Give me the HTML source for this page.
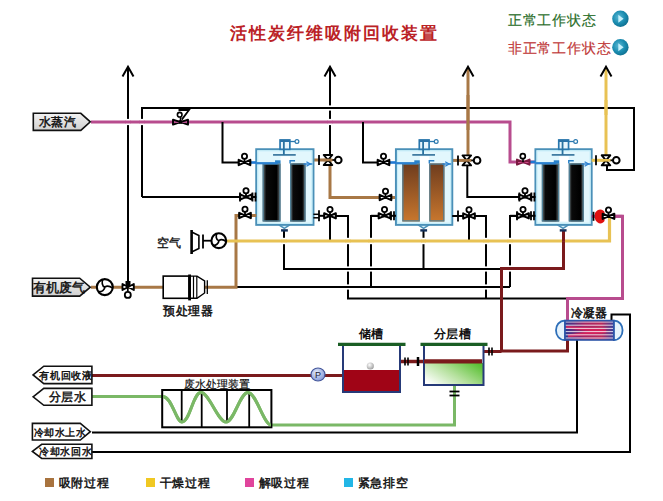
<!DOCTYPE html><html><head><meta charset="utf-8"><style>html,body{margin:0;padding:0;background:#fff;}svg{display:block}text{font-family:"Liberation Sans",sans-serif}</style></head><body>
<svg width="663" height="501" viewBox="0 0 663 501">
<defs>
<linearGradient id="blk" x1="0" y1="0" x2="1" y2="0"><stop offset="0" stop-color="#6f7f84"/><stop offset="0.2" stop-color="#0a0a0a"/><stop offset="0.78" stop-color="#000"/><stop offset="1" stop-color="#6a7478"/></linearGradient>
<linearGradient id="brn" x1="0" y1="0" x2="0" y2="1"><stop offset="0" stop-color="#6e3c1e"/><stop offset="1" stop-color="#c8772e"/></linearGradient>
<linearGradient id="lbl" x1="0" y1="0" x2="0" y2="1"><stop offset="0" stop-color="#f2f2f2"/><stop offset="1" stop-color="#d0d0d0"/></linearGradient>
<linearGradient id="grn" x1="0" y1="0.8" x2="1" y2="0.2"><stop offset="0" stop-color="#ffffff"/><stop offset="0.5" stop-color="#b4e09c"/><stop offset="1" stop-color="#5ac034"/></linearGradient>
<radialGradient id="btn" cx="0.4" cy="0.4" r="0.65"><stop offset="0" stop-color="#5ab8d4"/><stop offset="0.6" stop-color="#1a8cb0"/><stop offset="1" stop-color="#0f6e8e"/></radialGradient>
<radialGradient id="pmp" cx="0.4" cy="0.35" r="0.7"><stop offset="0" stop-color="#e4ecfb"/><stop offset="1" stop-color="#7f95d6"/></radialGradient>
<linearGradient id="cnd" x1="0" y1="0" x2="1" y2="0"><stop offset="0" stop-color="#2a3590"/><stop offset="0.4" stop-color="#a82262"/><stop offset="0.75" stop-color="#b8285c"/><stop offset="1" stop-color="#34409c"/></linearGradient>
<radialGradient id="ball" cx="0.4" cy="0.35" r="0.7"><stop offset="0" stop-color="#fff"/><stop offset="1" stop-color="#999"/></radialGradient>
</defs>
<polyline points="142,197 142,108 634,108 634,170 607,170 607,162" fill="none" stroke="#000" stroke-width="2" stroke-linejoin="miter" stroke-linecap="butt"/>
<polyline points="142,197 240,197" fill="none" stroke="#000" stroke-width="2" stroke-linejoin="miter" stroke-linecap="butt"/>
<polyline points="128,287 128,66.7" fill="none" stroke="#000" stroke-width="2" stroke-linejoin="miter" stroke-linecap="butt"/>
<polyline points="122.5,76.5 128,66.7 133.5,76.5" fill="none" stroke="#000" stroke-width="2"/>
<polyline points="330,160 330,66.7" fill="none" stroke="#000" stroke-width="2" stroke-linejoin="miter" stroke-linecap="butt"/>
<polyline points="324.5,76.5 330,66.7 335.5,76.5" fill="none" stroke="#000" stroke-width="2"/>
<polyline points="468,69 468,161" fill="none" stroke="#a87846" stroke-width="3" stroke-linejoin="miter" stroke-linecap="butt"/>
<polyline points="462.5,76.5 468,66.7 473.5,76.5" fill="none" stroke="#000" stroke-width="2"/>
<polyline points="606,69 606,160" fill="none" stroke="#e8c254" stroke-width="3" stroke-linejoin="miter" stroke-linecap="butt"/>
<polyline points="600.5,76.5 606,66.7 611.5,76.5" fill="none" stroke="#000" stroke-width="2"/>
<polyline points="91,122 510,122 510,162 536,162" fill="none" stroke="#b84c8e" stroke-width="3" stroke-linejoin="miter" stroke-linecap="butt"/>
<polyline points="222.5,122 222.5,162.5 240,162.5" fill="none" stroke="#000" stroke-width="2" stroke-linejoin="miter" stroke-linecap="butt"/>
<polyline points="363,122 363,162.5 378,162.5" fill="none" stroke="#000" stroke-width="2" stroke-linejoin="miter" stroke-linecap="butt"/>
<polyline points="313,160 330,160 330,197.5 396,197.5" fill="none" stroke="#a87846" stroke-width="3" stroke-linejoin="miter" stroke-linecap="butt"/>
<polyline points="452,160.4 468,160.4" fill="none" stroke="#a87846" stroke-width="3" stroke-linejoin="miter" stroke-linecap="butt"/>
<polyline points="467.3,162 467.3,197 520,197" fill="none" stroke="#000" stroke-width="2" stroke-linejoin="miter" stroke-linecap="butt"/>
<polyline points="330,216 330,241" fill="none" stroke="#000" stroke-width="2" stroke-linejoin="miter" stroke-linecap="butt"/>
<polyline points="330,216 348,216 348,298.5 567,298.5" fill="none" stroke="#000" stroke-width="2" stroke-linejoin="miter" stroke-linecap="butt"/>
<polyline points="469,216 469,241" fill="none" stroke="#000" stroke-width="2" stroke-linejoin="miter" stroke-linecap="butt"/>
<polyline points="469,216 486,216 486,298.5" fill="none" stroke="#000" stroke-width="2" stroke-linejoin="miter" stroke-linecap="butt"/>
<polyline points="385,216 371,216 371,287" fill="none" stroke="#000" stroke-width="2" stroke-linejoin="miter" stroke-linecap="butt"/>
<polyline points="523,216 510,216 510,287" fill="none" stroke="#000" stroke-width="2" stroke-linejoin="miter" stroke-linecap="butt"/>
<polyline points="236,287 510,287" fill="none" stroke="#000" stroke-width="2" stroke-linejoin="miter" stroke-linecap="butt"/>
<polyline points="284,230 284,269 501,269" fill="none" stroke="#000" stroke-width="2" stroke-linejoin="miter" stroke-linecap="butt"/>
<polyline points="423.5,230 423.5,269" fill="none" stroke="#000" stroke-width="2" stroke-linejoin="miter" stroke-linecap="butt"/>
<polyline points="91,287.2 236,287.2 236,215.5 240,215.5" fill="none" stroke="#a87846" stroke-width="3" stroke-linejoin="miter" stroke-linecap="butt"/>
<polyline points="227,241 609.5,241 609.5,216" fill="none" stroke="#e8c254" stroke-width="3.2" stroke-linejoin="miter" stroke-linecap="butt"/>
<polyline points="563.5,231 563.5,268.5 501.5,268.5 501.5,351 567.5,351 567.5,340" fill="none" stroke="#7a1a1c" stroke-width="3" stroke-linejoin="miter" stroke-linecap="butt"/>
<polyline points="591,216.3 622.5,216.3 622.5,298.5 567.5,298.5 567.5,322" fill="none" stroke="#b84c8e" stroke-width="3" stroke-linejoin="miter" stroke-linecap="butt"/>
<polyline points="92,432.5 577,432.5 577,340" fill="none" stroke="#000" stroke-width="2" stroke-linejoin="miter" stroke-linecap="butt"/>
<polyline points="92,452 630,452 630,314.5 611.5,314.5 611.5,322" fill="none" stroke="#000" stroke-width="2" stroke-linejoin="miter" stroke-linecap="butt"/>
<polyline points="92,375.5 343,375.5" fill="none" stroke="#7a1a1c" stroke-width="3" stroke-linejoin="miter" stroke-linecap="butt"/>
<polyline points="400,361.5 424,361.5" fill="none" stroke="#7a1a1c" stroke-width="3.5" stroke-linejoin="miter" stroke-linecap="butt"/>
<polyline points="424,361.5 482,361.5" fill="none" stroke="#7a1a1c" stroke-width="4" stroke-linejoin="miter" stroke-linecap="butt"/>
<polyline points="483.5,351.5 501.5,351.5" fill="none" stroke="#7a1a1c" stroke-width="3" stroke-linejoin="miter" stroke-linecap="butt"/>
<path d="M92,396.5 L163,396.5 C172,397 176,422 182,422 C190,422 193,392.5 201,392.5 C209,392.5 218,422 226,422 C234,422 240,392.5 248,392.5 C256,392.5 264,425 271,425 L454.5,425 L454.5,385" fill="none" stroke="#7ab866" stroke-width="3"/>
<rect x="126" y="118.9" width="4" height="6.2" fill="#fff"/>
<line x1="125.5" y1="122" x2="130.5" y2="122" stroke="#b84c8e" stroke-width="3"/>
<rect x="140" y="118.9" width="4" height="6.2" fill="#fff"/>
<line x1="139.5" y1="122" x2="144.5" y2="122" stroke="#b84c8e" stroke-width="3"/>
<rect x="328" y="105.4" width="4" height="5.2" fill="#fff"/>
<line x1="327.5" y1="108" x2="332.5" y2="108" stroke="#000" stroke-width="2"/>
<rect x="328" y="118.9" width="4" height="6.2" fill="#fff"/>
<line x1="327.5" y1="122" x2="332.5" y2="122" stroke="#b84c8e" stroke-width="3"/>
<rect x="282" y="237.8" width="4" height="6.4" fill="#fff"/>
<line x1="281.5" y1="241" x2="286.5" y2="241" stroke="#e8c254" stroke-width="3.2"/>
<rect x="421.5" y="237.8" width="4" height="6.4" fill="#fff"/>
<line x1="421.0" y1="241" x2="426.0" y2="241" stroke="#e8c254" stroke-width="3.2"/>
<rect x="346" y="237.8" width="4" height="6.4" fill="#fff"/>
<line x1="345.5" y1="241" x2="350.5" y2="241" stroke="#e8c254" stroke-width="3.2"/>
<rect x="369" y="237.8" width="4" height="6.4" fill="#fff"/>
<line x1="368.5" y1="241" x2="373.5" y2="241" stroke="#e8c254" stroke-width="3.2"/>
<rect x="484" y="237.8" width="4" height="6.4" fill="#fff"/>
<line x1="483.5" y1="241" x2="488.5" y2="241" stroke="#e8c254" stroke-width="3.2"/>
<rect x="508" y="237.8" width="4" height="6.4" fill="#fff"/>
<line x1="507.5" y1="241" x2="512.5" y2="241" stroke="#e8c254" stroke-width="3.2"/>
<rect x="346" y="266.4" width="4" height="5.2" fill="#fff"/>
<line x1="345.5" y1="269" x2="350.5" y2="269" stroke="#000" stroke-width="2"/>
<rect x="369" y="266.4" width="4" height="5.2" fill="#fff"/>
<line x1="368.5" y1="269" x2="373.5" y2="269" stroke="#000" stroke-width="2"/>
<rect x="484" y="266.4" width="4" height="5.2" fill="#fff"/>
<line x1="483.5" y1="269" x2="488.5" y2="269" stroke="#000" stroke-width="2"/>
<rect x="508" y="265.4" width="4" height="6.2" fill="#fff"/>
<line x1="507.5" y1="268.5" x2="512.5" y2="268.5" stroke="#7a1a1c" stroke-width="3"/>
<rect x="346" y="284.4" width="4" height="5.2" fill="#fff"/>
<line x1="345.5" y1="287" x2="350.5" y2="287" stroke="#000" stroke-width="2"/>
<rect x="484" y="284.4" width="4" height="5.2" fill="#fff"/>
<line x1="483.5" y1="287" x2="488.5" y2="287" stroke="#000" stroke-width="2"/>
<polyline points="468,95 468,130" fill="none" stroke="#a87846" stroke-width="3" stroke-linejoin="miter" stroke-linecap="butt"/>
<polyline points="563.5,236 563.5,246" fill="none" stroke="#7a1a1c" stroke-width="3" stroke-linejoin="miter" stroke-linecap="butt"/>
<polyline points="563.5,241 563.5,241.1" fill="none" stroke="#e8c254" stroke-width="3" stroke-linejoin="miter" stroke-linecap="butt"/>
<polyline points="501.5,280 501.5,305" fill="none" stroke="#7a1a1c" stroke-width="3" stroke-linejoin="miter" stroke-linecap="butt"/>
<polyline points="606,100 606,115" fill="none" stroke="#e8c254" stroke-width="3" stroke-linejoin="miter" stroke-linecap="butt"/>
<path d="M278.85,224.8 L284.35,228.3 L289.85,224.8" fill="#d8f2fb" stroke="#4a90b8" stroke-width="1.6"/>
<line x1="281.05" y1="230.4" x2="287.85" y2="230.4" stroke="#12305a" stroke-width="2.4"/>
<rect x="256.3" y="149.3" width="57.099999999999966" height="75.5" fill="#e2f7fd" stroke="#4a90b8" stroke-width="2.1"/>
<rect x="257.8" y="150.8" width="54.099999999999966" height="72.5" fill="none" stroke="#c8eef9" stroke-width="1.2"/>
<rect x="280.05" y="140.0" width="9.8" height="9.3" fill="#e8f6fd" stroke="#2a78ae" stroke-width="1.7"/>
<line x1="280.05" y1="140.8" x2="289.85" y2="140.8" stroke="#2a72a8" stroke-width="2.4"/>
<line x1="283.85" y1="140.3" x2="283.85" y2="154.8" stroke="#2a72a0" stroke-width="1.8"/>
<line x1="289.85" y1="141.5" x2="295.15000000000003" y2="141.5" stroke="#2a78ae" stroke-width="1.3"/>
<circle cx="296.95000000000005" cy="141.5" r="1.9" fill="#fff" stroke="#2a78ae" stroke-width="1.2"/>
<line x1="273.05" y1="154.9" x2="295.75" y2="154.9" stroke="#2f6e98" stroke-width="1.6"/>
<rect x="280.55" y="156.3" width="9.5" height="65.19999999999999" fill="#fff"/>
<rect x="262.6" y="163.5" width="17.94999999999999" height="58.0" fill="url(#blk)"/>
<rect x="263.20000000000005" y="164.1" width="16.74999999999999" height="56.8" fill="none" stroke="#4f7f96" stroke-width="1.2"/>
<rect x="290.05" y="163.5" width="15.549999999999955" height="58.0" fill="url(#blk)"/>
<rect x="290.65000000000003" y="164.1" width="14.349999999999955" height="56.8" fill="none" stroke="#4f7f96" stroke-width="1.2"/>
<rect x="275.05" y="160.3" width="5.5" height="3.2" fill="#2a82c8"/>
<path d="M290.05,163.5 L290.05,160.8 L295.05,160.8" fill="none" stroke="#2a82c8" stroke-width="1.4"/>
<line x1="256.3" y1="163.2" x2="277.55" y2="163.2" stroke="#2a80d0" stroke-width="2.2"/>
<line x1="303.59999999999997" y1="164" x2="312.4" y2="164" stroke="#2a80d0" stroke-width="1.4"/>
<path d="M306.4,161.8 L310.4,164 L306.4,166.2" fill="none" stroke="#2a80d0" stroke-width="1.2"/>
<path d="M418.1,224.8 L423.6,228.3 L429.1,224.8" fill="#d8f2fb" stroke="#4a90b8" stroke-width="1.6"/>
<line x1="420.3" y1="230.4" x2="427.1" y2="230.4" stroke="#12305a" stroke-width="2.4"/>
<rect x="396" y="149.3" width="56.19999999999999" height="75.5" fill="#e2f7fd" stroke="#4a90b8" stroke-width="2.1"/>
<rect x="397.5" y="150.8" width="53.19999999999999" height="72.5" fill="none" stroke="#c8eef9" stroke-width="1.2"/>
<rect x="419.3" y="140.0" width="9.8" height="9.3" fill="#e8f6fd" stroke="#2a78ae" stroke-width="1.7"/>
<line x1="419.3" y1="140.8" x2="429.1" y2="140.8" stroke="#2a72a8" stroke-width="2.4"/>
<line x1="423.1" y1="140.3" x2="423.1" y2="154.8" stroke="#2a72a0" stroke-width="1.8"/>
<line x1="429.1" y1="141.5" x2="434.40000000000003" y2="141.5" stroke="#2a78ae" stroke-width="1.3"/>
<circle cx="436.20000000000005" cy="141.5" r="1.9" fill="#fff" stroke="#2a78ae" stroke-width="1.2"/>
<line x1="412.3" y1="154.9" x2="435.0" y2="154.9" stroke="#2f6e98" stroke-width="1.6"/>
<rect x="419.8" y="156.3" width="9.5" height="65.19999999999999" fill="#fff"/>
<rect x="402.3" y="163.5" width="17.5" height="58.0" fill="url(#brn)"/>
<rect x="402.90000000000003" y="164.1" width="16.3" height="56.8" fill="none" stroke="#4f7f96" stroke-width="1.2"/>
<rect x="429.3" y="163.5" width="15.099999999999966" height="58.0" fill="url(#brn)"/>
<rect x="429.90000000000003" y="164.1" width="13.899999999999967" height="56.8" fill="none" stroke="#4f7f96" stroke-width="1.2"/>
<rect x="414.3" y="160.3" width="5.5" height="3.2" fill="#2a82c8"/>
<path d="M429.3,163.5 L429.3,160.8 L434.3,160.8" fill="none" stroke="#2a82c8" stroke-width="1.4"/>
<line x1="396" y1="163.2" x2="416.8" y2="163.2" stroke="#2a80d0" stroke-width="2.2"/>
<line x1="442.4" y1="164" x2="451.2" y2="164" stroke="#2a80d0" stroke-width="1.4"/>
<path d="M445.2,161.8 L449.2,164 L445.2,166.2" fill="none" stroke="#2a80d0" stroke-width="1.2"/>
<path d="M557.55,224.8 L563.05,228.3 L568.55,224.8" fill="#d8f2fb" stroke="#4a90b8" stroke-width="1.6"/>
<line x1="559.75" y1="230.4" x2="566.55" y2="230.4" stroke="#12305a" stroke-width="2.4"/>
<rect x="535.5" y="149.3" width="56.10000000000002" height="75.5" fill="#e2f7fd" stroke="#4a90b8" stroke-width="2.1"/>
<rect x="537.0" y="150.8" width="53.10000000000002" height="72.5" fill="none" stroke="#c8eef9" stroke-width="1.2"/>
<rect x="558.75" y="140.0" width="9.8" height="9.3" fill="#e8f6fd" stroke="#2a78ae" stroke-width="1.7"/>
<line x1="558.75" y1="140.8" x2="568.55" y2="140.8" stroke="#2a72a8" stroke-width="2.4"/>
<line x1="562.55" y1="140.3" x2="562.55" y2="154.8" stroke="#2a72a0" stroke-width="1.8"/>
<line x1="568.55" y1="141.5" x2="573.8499999999999" y2="141.5" stroke="#2a78ae" stroke-width="1.3"/>
<circle cx="575.65" cy="141.5" r="1.9" fill="#fff" stroke="#2a78ae" stroke-width="1.2"/>
<line x1="551.75" y1="154.9" x2="574.4499999999999" y2="154.9" stroke="#2f6e98" stroke-width="1.6"/>
<rect x="559.25" y="156.3" width="9.5" height="65.19999999999999" fill="#fff"/>
<rect x="541.8" y="163.5" width="17.450000000000045" height="58.0" fill="url(#blk)"/>
<rect x="542.4" y="164.1" width="16.250000000000046" height="56.8" fill="none" stroke="#4f7f96" stroke-width="1.2"/>
<rect x="568.75" y="163.5" width="15.050000000000068" height="58.0" fill="url(#blk)"/>
<rect x="569.35" y="164.1" width="13.850000000000069" height="56.8" fill="none" stroke="#4f7f96" stroke-width="1.2"/>
<rect x="553.75" y="160.3" width="5.5" height="3.2" fill="#2a82c8"/>
<path d="M568.75,163.5 L568.75,160.8 L573.75,160.8" fill="none" stroke="#2a82c8" stroke-width="1.4"/>
<line x1="535.5" y1="163.2" x2="556.25" y2="163.2" stroke="#2a80d0" stroke-width="2.2"/>
<line x1="581.8000000000001" y1="164" x2="590.6" y2="164" stroke="#2a80d0" stroke-width="1.4"/>
<path d="M584.6,161.8 L588.6,164 L584.6,166.2" fill="none" stroke="#2a80d0" stroke-width="1.2"/>
<polyline points="250,162.5 256.3,162.5" fill="none" stroke="#1f78d2" stroke-width="2.6" stroke-linejoin="miter" stroke-linecap="butt"/>
<path d="M238.7,159.9 L250.3,165.1 L250.3,159.9 L238.7,165.1 Z" fill="#fff" stroke="#000" stroke-width="2.1" stroke-linejoin="round"/>
<rect x="243.0" y="161.0" width="3" height="3" fill="#000"/>
<line x1="244.5" y1="162.5" x2="244.5" y2="159.0" stroke="#000" stroke-width="1.8"/>
<circle cx="244.5" cy="156.2" r="2.6" fill="#fff" stroke="#000" stroke-width="1.8"/>
<polyline points="240,197 256.3,197" fill="none" stroke="#000" stroke-width="2" stroke-linejoin="miter" stroke-linecap="butt"/>
<path d="M240.2,194.4 L251.8,199.6 L251.8,194.4 L240.2,199.6 Z" fill="#fff" stroke="#000" stroke-width="2.1" stroke-linejoin="round"/>
<rect x="244.5" y="195.5" width="3" height="3" fill="#000"/>
<line x1="246" y1="197" x2="246" y2="193.5" stroke="#000" stroke-width="1.8"/>
<circle cx="246" cy="190.7" r="2.6" fill="#fff" stroke="#000" stroke-width="1.8"/>
<line x1="240" y1="192.5" x2="240" y2="201.5" stroke="#000" stroke-width="1.8"/>
<line x1="252.5" y1="192.5" x2="252.5" y2="201.5" stroke="#000" stroke-width="1.8"/>
<line x1="255.5" y1="192.5" x2="255.5" y2="201.5" stroke="#000" stroke-width="1.8"/>
<polyline points="250,215.5 256.3,215.5" fill="none" stroke="#a87846" stroke-width="3" stroke-linejoin="miter" stroke-linecap="butt"/>
<path d="M239.2,212.9 L250.8,218.1 L250.8,212.9 L239.2,218.1 Z" fill="#fff" stroke="#000" stroke-width="2.1" stroke-linejoin="round"/>
<rect x="243.5" y="214.0" width="3" height="3" fill="#000"/>
<line x1="245" y1="215.5" x2="245" y2="212.0" stroke="#000" stroke-width="1.8"/>
<circle cx="245" cy="209.2" r="2.6" fill="#fff" stroke="#000" stroke-width="1.8"/>
<line x1="319" y1="155.0" x2="319" y2="165.0" stroke="#000" stroke-width="1.8"/>
<line x1="331" y1="160" x2="335.5" y2="160" stroke="#000" stroke-width="1.8"/>
<circle cx="338.3" cy="160" r="3.3" fill="#fff" stroke="#000" stroke-width="2"/>
<path d="M323.7,155 L332.3,155 L323.7,165 L332.3,165 Z" fill="#fff" stroke="#000" stroke-width="1.9" stroke-linejoin="round"/>
<line x1="323.5" y1="160" x2="332.5" y2="160" stroke="#a87846" stroke-width="2.6"/>
<polyline points="313.4,214.3 319,214.3" fill="none" stroke="#000" stroke-width="1.5" stroke-linejoin="miter" stroke-linecap="butt"/>
<polyline points="313.4,217.8 319,217.8" fill="none" stroke="#000" stroke-width="1.5" stroke-linejoin="miter" stroke-linecap="butt"/>
<line x1="319" y1="210.3" x2="319" y2="221.3" stroke="#000" stroke-width="1.8"/>
<polyline points="319,215.8 325,215.8" fill="none" stroke="#000" stroke-width="2" stroke-linejoin="miter" stroke-linecap="butt"/>
<path d="M324.2,213.20000000000002 L335.8,218.4 L335.8,213.20000000000002 L324.2,218.4 Z" fill="#fff" stroke="#000" stroke-width="2.1" stroke-linejoin="round"/>
<rect x="328.5" y="214.3" width="3" height="3" fill="#000"/>
<line x1="330" y1="215.8" x2="330" y2="212.3" stroke="#000" stroke-width="1.8"/>
<circle cx="330" cy="209.5" r="2.6" fill="#fff" stroke="#000" stroke-width="1.8"/>
<polyline points="389,162.5 396,162.5" fill="none" stroke="#1f78d2" stroke-width="2.6" stroke-linejoin="miter" stroke-linecap="butt"/>
<path d="M377.7,159.9 L389.3,165.1 L389.3,159.9 L377.7,165.1 Z" fill="#fff" stroke="#000" stroke-width="2.1" stroke-linejoin="round"/>
<rect x="382.0" y="161.0" width="3" height="3" fill="#000"/>
<line x1="383.5" y1="162.5" x2="383.5" y2="159.0" stroke="#000" stroke-width="1.8"/>
<circle cx="383.5" cy="156.2" r="2.6" fill="#fff" stroke="#000" stroke-width="1.8"/>
<path d="M379.7,194.9 L391.3,200.1 L391.3,194.9 L379.7,200.1 Z" fill="#fff" stroke="#000" stroke-width="2.1" stroke-linejoin="round"/>
<rect x="384.0" y="196.0" width="3" height="3" fill="#000"/>
<line x1="385.5" y1="197.5" x2="385.5" y2="194.0" stroke="#000" stroke-width="1.8"/>
<circle cx="385.5" cy="191.2" r="2.6" fill="#fff" stroke="#000" stroke-width="1.8"/>
<polyline points="371,215.8 396,215.8" fill="none" stroke="#000" stroke-width="2" stroke-linejoin="miter" stroke-linecap="butt"/>
<path d="M378.7,213.20000000000002 L390.3,218.4 L390.3,213.20000000000002 L378.7,218.4 Z" fill="#fff" stroke="#000" stroke-width="2.1" stroke-linejoin="round"/>
<rect x="383.0" y="214.3" width="3" height="3" fill="#000"/>
<line x1="384.5" y1="215.8" x2="384.5" y2="212.3" stroke="#000" stroke-width="1.8"/>
<circle cx="384.5" cy="209.5" r="2.6" fill="#fff" stroke="#000" stroke-width="1.8"/>
<line x1="391" y1="211.3" x2="391" y2="220.3" stroke="#000" stroke-width="1.8"/>
<line x1="394" y1="211.3" x2="394" y2="220.3" stroke="#000" stroke-width="1.8"/>
<line x1="458" y1="155.4" x2="458" y2="165.4" stroke="#000" stroke-width="1.8"/>
<line x1="469.8" y1="160.4" x2="474.3" y2="160.4" stroke="#000" stroke-width="1.8"/>
<circle cx="477.1" cy="160.4" r="3.3" fill="#fff" stroke="#000" stroke-width="2"/>
<path d="M462.5,155.4 L471.1,155.4 L462.5,165.4 L471.1,165.4 Z" fill="#fff" stroke="#000" stroke-width="1.9" stroke-linejoin="round"/>
<line x1="462.3" y1="160.4" x2="471.3" y2="160.4" stroke="#a87846" stroke-width="2.6"/>
<polyline points="452.2,216 469,216" fill="none" stroke="#000" stroke-width="2" stroke-linejoin="miter" stroke-linecap="butt"/>
<line x1="458" y1="210.5" x2="458" y2="221.5" stroke="#000" stroke-width="1.8"/>
<path d="M463.2,213.4 L474.8,218.6 L474.8,213.4 L463.2,218.6 Z" fill="#fff" stroke="#000" stroke-width="2.1" stroke-linejoin="round"/>
<rect x="467.5" y="214.5" width="3" height="3" fill="#000"/>
<line x1="469" y1="216" x2="469" y2="212.5" stroke="#000" stroke-width="1.8"/>
<circle cx="469" cy="209.7" r="2.6" fill="#fff" stroke="#000" stroke-width="1.8"/>
<polyline points="529,162 535.5,162" fill="none" stroke="#1f78d2" stroke-width="2.6" stroke-linejoin="miter" stroke-linecap="butt"/>
<path d="M517,159.6 L529.5,164.6 L529.5,159.6 L517,164.6 Z" fill="#d04a8a" stroke="#7a1a40" stroke-width="2" stroke-linejoin="round"/>
<line x1="523" y1="162" x2="523" y2="158.5" stroke="#000" stroke-width="1.6"/><circle cx="522.8" cy="156.2" r="2.5" fill="#fff" stroke="#000" stroke-width="1.7"/>
<polyline points="500,197 535.5,197" fill="none" stroke="#000" stroke-width="2" stroke-linejoin="miter" stroke-linecap="butt"/>
<path d="M519.2,194.4 L530.8,199.6 L530.8,194.4 L519.2,199.6 Z" fill="#fff" stroke="#000" stroke-width="2.1" stroke-linejoin="round"/>
<rect x="523.5" y="195.5" width="3" height="3" fill="#000"/>
<line x1="525" y1="197" x2="525" y2="193.5" stroke="#000" stroke-width="1.8"/>
<circle cx="525" cy="190.7" r="2.6" fill="#fff" stroke="#000" stroke-width="1.8"/>
<line x1="519.4" y1="192.5" x2="519.4" y2="201.5" stroke="#000" stroke-width="1.8"/>
<line x1="531.4" y1="192.5" x2="531.4" y2="201.5" stroke="#000" stroke-width="1.8"/>
<line x1="534.4" y1="192.5" x2="534.4" y2="201.5" stroke="#000" stroke-width="1.8"/>
<polyline points="510,215.8 535.5,215.8" fill="none" stroke="#000" stroke-width="2" stroke-linejoin="miter" stroke-linecap="butt"/>
<path d="M517.2,213.20000000000002 L528.8,218.4 L528.8,213.20000000000002 L517.2,218.4 Z" fill="#fff" stroke="#000" stroke-width="2.1" stroke-linejoin="round"/>
<rect x="521.5" y="214.3" width="3" height="3" fill="#000"/>
<line x1="523" y1="215.8" x2="523" y2="212.3" stroke="#000" stroke-width="1.8"/>
<circle cx="523" cy="209.5" r="2.6" fill="#fff" stroke="#000" stroke-width="1.8"/>
<line x1="517" y1="211.3" x2="517" y2="220.3" stroke="#000" stroke-width="1.8"/>
<line x1="531" y1="211.3" x2="531" y2="220.3" stroke="#000" stroke-width="1.8"/>
<line x1="534" y1="211.3" x2="534" y2="220.3" stroke="#000" stroke-width="1.8"/>
<polyline points="591.6,160.3 606,160.3" fill="none" stroke="#e8c254" stroke-width="3" stroke-linejoin="miter" stroke-linecap="butt"/>
<line x1="596" y1="155.3" x2="596" y2="165.3" stroke="#000" stroke-width="1.8"/>
<line x1="609" y1="160.3" x2="613.5" y2="160.3" stroke="#000" stroke-width="1.8"/>
<circle cx="616.3" cy="160.3" r="3.3" fill="#fff" stroke="#000" stroke-width="2"/>
<path d="M601.7,155.3 L610.3,155.3 L601.7,165.3 L610.3,165.3 Z" fill="#fff" stroke="#000" stroke-width="1.9" stroke-linejoin="round"/>
<line x1="601.5" y1="160.3" x2="610.5" y2="160.3" stroke="#e8c254" stroke-width="2.6"/>
<polyline points="591.6,216.3 622.5,216.3" fill="none" stroke="#b84c8e" stroke-width="3" stroke-linejoin="miter" stroke-linecap="butt"/>
<line x1="593.5" y1="211.8" x2="593.5" y2="220.8" stroke="#000" stroke-width="1.8"/>
<path d="M595,213 C598,208 603,209 604.5,212 L604.5,221 C602,225 597,224 595,219 Z" fill="#e01010"/>
<path d="M602.7,213.70000000000002 L614.3,218.9 L614.3,213.70000000000002 L602.7,218.9 Z" fill="#fff" stroke="#000" stroke-width="2.1" stroke-linejoin="round"/>
<rect x="607.0" y="214.8" width="3" height="3" fill="#000"/>
<line x1="608.5" y1="216.3" x2="608.5" y2="212.8" stroke="#000" stroke-width="1.8"/>
<circle cx="608.5" cy="210.0" r="2.6" fill="#fff" stroke="#000" stroke-width="1.8"/>
<path d="M173,119.6 L188,124.6 L188,119.6 L173,124.6 Z" fill="none" stroke="#000" stroke-width="1.9" stroke-linejoin="round"/>
<rect x="178.8" y="120.3" width="3.4" height="3.4" fill="#000"/><line x1="180.5" y1="122" x2="180.5" y2="117" stroke="#000" stroke-width="1.6"/>
<path d="M178.5,110 L189,110 L181.8,119.6" fill="none" stroke="#000" stroke-width="1.8"/><circle cx="179.7" cy="114.7" r="2.3" fill="#fff" stroke="#000" stroke-width="1.6"/>
<rect x="125.5" y="281" width="5" height="5" fill="#000"/>
<path d="M122.5,284 L133.8,290 L133.8,284 L122.5,290 Z" fill="#fff" stroke="#000" stroke-width="1.9" stroke-linejoin="round"/>
<line x1="127.8" y1="287" x2="127.8" y2="291.5" stroke="#000" stroke-width="1.8"/><circle cx="127.8" cy="294.9" r="3" fill="#fff" stroke="#000" stroke-width="1.8"/>
<circle cx="104.8" cy="287.1" r="8" fill="#fff" stroke="#000" stroke-width="2.1"/>
<path d="M104.8,287.1 C101.8,286.1 101.8,282.1 102.8,279.1 M104.8,287.1 C106.8,285.6 109.8,286.1 112.8,288.1 M104.8,287.1 C104.8,290.1 101.8,292.1 98.3,291.6" fill="none" stroke="#000" stroke-width="1.7"/>
<line x1="191.6" y1="230" x2="191.6" y2="254" stroke="#000" stroke-width="2.6"/>
<path d="M191.6,232 L198.9,235.5 L198.9,248.5 L191.6,252" fill="none" stroke="#000" stroke-width="1.6"/>
<line x1="203" y1="234.5" x2="203" y2="248.5" stroke="#000" stroke-width="1.8"/><line x1="203" y1="240.7" x2="211.5" y2="240.7" stroke="#000" stroke-width="1.8"/>
<circle cx="218.8" cy="240.7" r="7.4" fill="#fff" stroke="#000" stroke-width="2.1"/>
<path d="M218.8,240.7 C215.8,239.7 215.8,235.7 216.8,233.29999999999998 M218.8,240.7 C220.8,239.2 223.8,239.7 226.20000000000002,241.7 M218.8,240.7 C218.8,243.7 215.8,245.7 212.9,245.2" fill="none" stroke="#000" stroke-width="1.7"/>
<rect x="163.2" y="276.1" width="26.1" height="22.2" fill="#fff" stroke="#000" stroke-width="1.6"/>
<path d="M189.3,276.1 L197,276.1 L204.6,280.8 L204.6,293 L197,298.3 L189.3,298.3 Z" fill="#fff" stroke="#000" stroke-width="1.4"/>
<line x1="189.6" y1="274.5" x2="189.6" y2="300.4" stroke="#000" stroke-width="2.8"/><line x1="193.5" y1="276" x2="193.5" y2="298.3" stroke="#000" stroke-width="1.2"/><line x1="196.8" y1="276" x2="196.8" y2="298.3" stroke="#000" stroke-width="1.2"/>
<line x1="207.3" y1="280.3" x2="207.3" y2="294" stroke="#000" stroke-width="1.3"/>
<rect x="343" y="370" width="57" height="22" fill="#a00416"/>
<polyline points="343,344.5 343,392 400,392 400,344.5" fill="none" stroke="#263a78" stroke-width="2"/>
<line x1="338" y1="344.3" x2="405.5" y2="344.3" stroke="#1a5e24" stroke-width="3.2"/>
<circle cx="370.3" cy="366" r="3.6" fill="url(#ball)"/>
<rect x="424" y="363" width="59.5" height="22" fill="url(#grn)"/>
<polyline points="424,344.5 424,385 483.5,385 483.5,344.5" fill="none" stroke="#263a78" stroke-width="2"/>
<line x1="420.5" y1="344.3" x2="487.5" y2="344.3" stroke="#1a5e24" stroke-width="3.2"/>
<polyline points="424,361.5 482,361.5" fill="none" stroke="#7a1a1c" stroke-width="4" stroke-linejoin="miter" stroke-linecap="butt"/>
<line x1="405" y1="357.5" x2="405" y2="365.5" stroke="#000" stroke-width="1.6"/>
<line x1="408" y1="357.5" x2="408" y2="365.5" stroke="#000" stroke-width="1.6"/>
<line x1="418" y1="357.0" x2="418" y2="366.0" stroke="#000" stroke-width="2.5"/>
<line x1="489" y1="347.5" x2="489" y2="355.5" stroke="#000" stroke-width="1.6"/>
<line x1="492" y1="347.5" x2="492" y2="355.5" stroke="#000" stroke-width="1.6"/>
<line x1="449.5" y1="391.5" x2="459.5" y2="391.5" stroke="#000" stroke-width="1.8"/>
<line x1="449.5" y1="395.5" x2="459.5" y2="395.5" stroke="#000" stroke-width="1.8"/>
<ellipse cx="318" cy="374.5" rx="7" ry="6.5" fill="url(#pmp)" stroke="#44569a" stroke-width="1.2"/><text x="318" y="378.3" font-size="9" text-anchor="middle" fill="#223">P</text>
<path d="M565,320.6 C553,320.6 553,340 565,340 Z" fill="#e6f3fc" stroke="#2d6eb8" stroke-width="1.8"/>
<path d="M613.8,320.6 C625.5,320.6 625.5,340 613.8,340 Z" fill="#e6f3fc" stroke="#2d6eb8" stroke-width="1.8"/>
<rect x="565" y="320.6" width="48.8" height="19.4" fill="url(#cnd)"/>
<path d="M566,327 L606,331 L568,336" fill="none" stroke="#d8205a" stroke-width="3" opacity="0.85"/>
<line x1="565" y1="322" x2="613.8" y2="322" stroke="#ffffff" stroke-width="0.9" opacity="0.9"/>
<line x1="565" y1="325.2" x2="613.8" y2="325.2" stroke="#ffffff" stroke-width="0.9" opacity="0.9"/>
<line x1="565" y1="328.4" x2="613.8" y2="328.4" stroke="#ffffff" stroke-width="0.9" opacity="0.9"/>
<line x1="565" y1="331.6" x2="613.8" y2="331.6" stroke="#ffffff" stroke-width="0.9" opacity="0.9"/>
<line x1="565" y1="334.8" x2="613.8" y2="334.8" stroke="#ffffff" stroke-width="0.9" opacity="0.9"/>
<line x1="565" y1="338" x2="613.8" y2="338" stroke="#ffffff" stroke-width="0.9" opacity="0.9"/>
<rect x="565" y="320.6" width="48.8" height="19.4" fill="none" stroke="#2d55a8" stroke-width="1.6"/>
<rect x="162.2" y="390" width="109.2" height="37.3" fill="none" stroke="#000" stroke-width="2"/>
<line x1="181.7" y1="390" x2="181.7" y2="421" stroke="#000" stroke-width="1.8"/>
<line x1="201.7" y1="393" x2="201.7" y2="427" stroke="#000" stroke-width="1.8"/>
<line x1="227" y1="390" x2="227" y2="421" stroke="#000" stroke-width="1.8"/>
<line x1="249.2" y1="393" x2="249.2" y2="427" stroke="#000" stroke-width="1.8"/>
<path d="M163,396.5 C172,397 176,422 182,422 C190,422 193,392.5 201,392.5 C209,392.5 218,422 226,422 C234,422 240,392.5 248,392.5 C256,392.5 264,425 271,425" fill="none" stroke="#7ab866" stroke-width="3"/>
<path d="M33.3,113.3 L80.8,113.3 L90.3,121.85 L80.8,130.4 L33.3,130.4 Z" fill="url(#lbl)" stroke="#111" stroke-width="1.6"/>
<text x="39.3" y="126.401" font-size="12.3" letter-spacing="0.2" fill="#111" stroke="#111" stroke-width="0.45">水蒸汽</text>
<path d="M32.5,278.2 L79.7,278.2 L90.3,287.15 L79.7,296.1 L32.5,296.1 Z" fill="url(#lbl)" stroke="#111" stroke-width="1.6"/>
<text x="32.5" y="291.775" font-size="12.5" letter-spacing="0" fill="#111" stroke="#111" stroke-width="0.45">有机废气</text>
<path d="M33.1,374.9 L43.8,366.2 L91.9,366.2 L91.9,383.6 L43.8,383.6 Z" fill="#fff" stroke="#111" stroke-width="1.6"/>
<text x="39.4" y="378.748" font-size="10.4" letter-spacing="0.65" fill="#111" stroke="#111" stroke-width="0.45">有机回收液</text>
<path d="M33.1,396.85 L43.8,388.4 L91.9,388.4 L91.9,405.3 L43.8,405.3 Z" fill="#fff" stroke="#111" stroke-width="1.6"/>
<text x="49.4" y="401.36400000000003" font-size="12.2" letter-spacing="0.1" fill="#111" stroke="#111" stroke-width="0.45">分层水</text>
<path d="M32.4,423.4 L80.3,423.4 L90.3,431.7 L80.3,440 L32.4,440 Z" fill="#fff" stroke="#111" stroke-width="1.6"/>
<text x="33.8" y="435.548" font-size="10.4" letter-spacing="0.45" fill="#111" stroke="#111" stroke-width="0.45">冷却水上水</text>
<path d="M32.4,451.4 L41.7,444.3 L91.9,444.3 L91.9,458.5 L41.7,458.5 Z" fill="#fff" stroke="#111" stroke-width="1.6"/>
<text x="39.2" y="455.248" font-size="10.4" letter-spacing="0.6" fill="#111" stroke="#111" stroke-width="0.45">冷却水回水</text>
<text x="230" y="39" font-size="16.6" font-weight="bold" letter-spacing="2.0" fill="#bb2226">活性炭纤维吸附回收装置</text>
<text x="507.8" y="24.6" font-size="13.6" letter-spacing="0.8" fill="#2a6e2a" stroke="#2a6e2a" stroke-width="0.2">正常工作状态</text>
<text x="507.8" y="53.2" font-size="13.6" letter-spacing="0.8" fill="#c03838" stroke="#c03838" stroke-width="0.2">非正常工作状态</text>
<circle cx="620.4" cy="18.7" r="8.2" fill="url(#btn)"/><path d="M618.3,14.7 L623.6,18.7 L618.3,22.7 Z" fill="#c4f0fc"/>
<circle cx="620.4" cy="47.3" r="8.2" fill="url(#btn)"/><path d="M618.3,43.3 L623.6,47.3 L618.3,51.3 Z" fill="#c4f0fc"/>
<text x="157" y="247" font-size="12" stroke="#111" stroke-width="0.35" fill="#111">空气</text>
<text x="163" y="315" font-size="12" stroke="#111" stroke-width="0.45" letter-spacing="0.5" fill="#111">预处理器</text>
<text x="358.6" y="337.5" font-size="12" font-weight="bold" letter-spacing="0.5" fill="#111">储槽</text>
<text x="433.6" y="337.5" font-size="12" font-weight="bold" letter-spacing="0.5" fill="#111">分层槽</text>
<text x="570.5" y="317" font-size="12" stroke="#111" stroke-width="0.5" letter-spacing="0.3" fill="#111">冷凝器</text>
<text x="184" y="388" font-size="10.5" stroke="#111" stroke-width="0.2" fill="#111">废水处理装置</text>
<rect x="45" y="478" width="9" height="9" fill="#a8733e"/>
<text x="58.5" y="486.8" font-size="12.3" stroke="#111" stroke-width="0.45" letter-spacing="0.8" fill="#111">吸附过程</text>
<rect x="146" y="478" width="9" height="9" fill="#f0c822"/>
<text x="159.5" y="486.8" font-size="12.3" stroke="#111" stroke-width="0.45" letter-spacing="0.8" fill="#111">干燥过程</text>
<rect x="245" y="478" width="9" height="9" fill="#e0449c"/>
<text x="258.5" y="486.8" font-size="12.3" stroke="#111" stroke-width="0.45" letter-spacing="0.8" fill="#111">解吸过程</text>
<rect x="344" y="478" width="9" height="9" fill="#22b6e6"/>
<text x="357.5" y="486.8" font-size="12.3" stroke="#111" stroke-width="0.45" letter-spacing="0.8" fill="#111">紧急排空</text>
</svg></body></html>
